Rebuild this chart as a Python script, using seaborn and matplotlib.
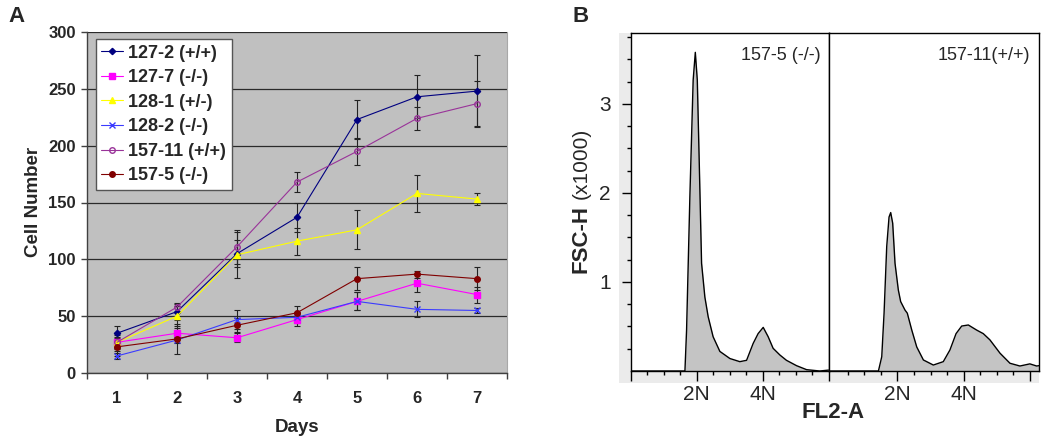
import numpy as np
import pandas as pd
import matplotlib.pyplot as plt
from matplotlib.patches import Rectangle
import seaborn as sns

# ---- panel A: growth curves ----
days = [1, 2, 3, 4, 5, 6, 7]
series_names = ['127-2 (+/+)', '127-7 (-/-)', '128-1 (+/-)',
                '128-2 (-/-)', '157-11 (+/+)', '157-5 (-/-)']
cells_127_2 = [35, 54, 105, 137, 223, 243, 248]
err_127_2 = [6, 7, 12, 13, 17, 19, 32]
cells_127_7 = [27, 35, 31, 47, 63, 79, 69]
err_127_7 = [5, 5, 4, 6, 8, 8, 7]
cells_128_1 = [27, 50, 104, 116, 126, 158, 153]
err_128_1 = [6, 9, 20, 12, 17, 16, 5]
cells_128_2 = [15, 29, 47, 49, 63, 56, 55]
err_128_2 = [3, 3, 8, 5, 8, 7, 2]
cells_157_11 = [27, 58, 111, 168, 195, 224, 237]
err_157_11 = [8, 4, 15, 9, 12, 10, 20]
cells_157_5 = [23, 30, 42, 53, 83, 87, 83]
err_157_5 = [8, 13, 6, 6, 10, 3, 10]

cells = [cells_127_2, cells_127_7, cells_128_1, cells_128_2, cells_157_11, cells_157_5]
errs = [err_127_2, err_127_7, err_128_1, err_128_2, err_157_11, err_157_5]
colors = ['#000080', '#ff00ff', '#ffff00', '#3b3bff', '#993399', '#800000']
markers = ['D', 's', '^', 'x', 'o', 'o']
msizes = [3.2, 4.5, 4.5, 5, 4, 4]

# ---- panel B: DNA content histograms ----
fl2_left = [0, 3.29, 3.39, 3.59, 3.79, 3.92, 4.04, 4.16, 4.30, 4.50, 4.70, 5.0,
            5.41, 6.02, 6.62, 7.03, 7.43, 7.73, 8.04, 8.34, 8.64, 9.05, 9.45,
            10.06, 10.67, 11.47, 12]
fsc_left = [0, 0, 0.46, 1.96, 3.27, 3.58, 3.27, 2.33, 1.21, 0.83, 0.61, 0.385,
            0.22, 0.14, 0.105, 0.12, 0.31, 0.42, 0.49, 0.385, 0.255, 0.18, 0.12,
            0.06, 0.015, 0.0, 0.01]
fl2_right = [-0.15, 2.86, 3.06, 3.2, 3.36, 3.5, 3.6, 3.72, 3.86, 4.06, 4.2, 4.46,
             4.6, 4.87, 5.17, 5.57, 6.17, 6.77, 7.17, 7.54, 7.88, 8.28, 8.78,
             9.18, 9.58, 10.19, 10.79, 11.39, 11.99, 12.4, 12.54]
fsc_right = [0, 0, 0.16, 0.65, 1.40, 1.73, 1.78, 1.66, 1.21, 0.91, 0.78, 0.685,
             0.65, 0.46, 0.27, 0.124, 0.067, 0.105, 0.236, 0.42, 0.505, 0.517,
             0.46, 0.42, 0.35, 0.2, 0.087, 0.056, 0.08, 0.056, 0.06]

sns.set_style("ticks")
plt.rcParams['font.family'] = ['Liberation Sans', 'DejaVu Sans']

W, H = 1050, 446
fig = plt.figure(figsize=(W / 100, H / 100), dpi=100)

# ---------- A ----------
axA = fig.add_axes([87 / W, 73 / H, 420 / W, 341 / H])
axA.set_facecolor('#c0c0c0')
for i in range(len(series_names)):
    axA.errorbar(days, cells[i], yerr=errs[i], fmt='none', ecolor='#222222',
                 elinewidth=0.8, capsize=2.2, capthick=0.8, zorder=2)
for i, name in enumerate(series_names):
    face = 'none' if name.startswith('157-11') else colors[i]
    sns.lineplot(x=days, y=cells[i], ax=axA, color=colors[i], lw=0.8,
                 marker=markers[i], markersize=msizes[i], markerfacecolor=face,
                 markeredgecolor=colors[i], markeredgewidth=1, label=name,
                 zorder=3)
axA.set_xlim(0.5, 7.5)
axA.set_ylim(0, 300)
axA.set_yticks(range(0, 301, 50), [str(v) for v in range(0, 301, 50)],
               fontweight='bold', fontsize=12)
axA.set_xticks(days, [str(d) for d in days], fontweight='bold', fontsize=12)
axA.set_xticks(np.arange(0.5, 8, 1), minor=True)
axA.tick_params(axis='x', which='major', length=0, pad=13)
axA.tick_params(axis='x', which='minor', length=4, width=1, color='#404040')
axA.tick_params(axis='y', length=4, width=1, color='#404040', pad=4)
axA.grid(axis='y', color='#2a2a2a', lw=0.9)
axA.set_axisbelow(True)
for s in ['left', 'bottom']:
    axA.spines[s].set_color('#404040')
    axA.spines[s].set_linewidth(1)
axA.spines['top'].set_visible(False)
axA.spines['right'].set_color('#a8a8a8')
axA.set_xlabel('')
axA.set_ylabel('')
handles, labels = axA.get_legend_handles_labels()
leg = axA.legend(handles, labels, loc='upper left', bbox_to_anchor=(0.021, 0.979),
                 borderaxespad=0, prop={'weight': 'bold', 'size': 13},
                 handlelength=1.2, handletextpad=0.3, labelspacing=0.42,
                 borderpad=0.3, fancybox=False, framealpha=1, edgecolor='#555555')
leg.get_frame().set_linewidth(1)

fig.text(33 / W, 1 - 202 / H, 'Cell Number', rotation=90, ha='center', va='center',
         fontsize=13.5, fontweight='bold')
fig.text(297 / W, 1 - 428 / H, 'Days', ha='center', va='center',
         fontsize=13.5, fontweight='bold')
fig.text(8 / W, 1 - 16 / H, 'A', ha='left', va='center', fontsize=16, fontweight='bold')

# ---------- B ----------
fig.patches.append(Rectangle((619 / W, 63 / H), 420 / W, 350 / H,
                             transform=fig.transFigure, facecolor='#ebebeb',
                             edgecolor='none', zorder=-1))
axL = fig.add_axes([630.7 / W, 75 / H, 197.8 / W, 337.7 / H])
axR = fig.add_axes([828.5 / W, 75 / H, 210.5 / W, 337.7 / H])
for ax, xs, ys in [(axL, fl2_left, fsc_left), (axR, fl2_right, fsc_right)]:
    ax.set_facecolor('white')
    ax.fill_between(xs, ys, color='#c4c4c4', lw=0)
    sns.lineplot(x=xs, y=ys, ax=ax, color='black', lw=1, sort=False, estimator=None)
    ax.set_ylim(0, 3.794)
    for s in ax.spines.values():
        s.set_visible(True)
        s.set_color('black')
        s.set_linewidth(1)
    ax.tick_params(axis='x', which='major', length=7.2, width=1, color='black',
                   labelsize=15, pad=3)
    ax.tick_params(axis='x', which='minor', length=3, width=1, color='black')
    ax.set_xlabel('')
    ax.set_ylabel('')

axL.set_xlim(0, 12)
axL.set_xticks([0, 4, 8, 12], ['', '2N', '4N', ''])
axL.set_xticks([1, 2, 3, 5, 6, 7, 9, 10, 11], minor=True)
axL.set_yticks([1, 2, 3], ['1', '2', '3'])
axL.set_yticks([v for v in np.arange(0.25, 3.8, 0.25) if v % 1 != 0], minor=True)
axL.tick_params(axis='y', which='major', length=6.5, width=1, color='black',
                labelsize=15, pad=8)
axL.tick_params(axis='y', which='minor', length=3, width=1, color='black')

axR.set_xlim(-0.15, 12.54)
axR.set_xticks([4, 8, 12], ['2N', '4N', ''])
axR.set_xticks([1, 2, 3, 5, 6, 7, 9, 10, 11], minor=True)
axR.set_yticks([])

axL.text(0.96, 0.935, '157-5 (-/-)', transform=axL.transAxes, ha='right', va='center',
         fontsize=13)
axR.text(0.96, 0.935, '157-11(+/+)', transform=axR.transAxes, ha='right', va='center',
         fontsize=13)

fig.text(581 / W, 1 - 239 / H, 'FSC-H', rotation=90, ha='center', va='center',
         fontsize=16, fontweight='bold')
fig.text(581 / W, 1 - 163.5 / H, '(x1000)', rotation=90, ha='center', va='center',
         fontsize=15)
fig.text(833 / W, 1 - 413 / H, 'FL2-A', ha='center', va='center',
         fontsize=16, fontweight='bold')
fig.text(573 / W, 1 - 16 / H, 'B', ha='left', va='center', fontsize=16, fontweight='bold')

fig.savefig('out.png', dpi=100, facecolor='white')
